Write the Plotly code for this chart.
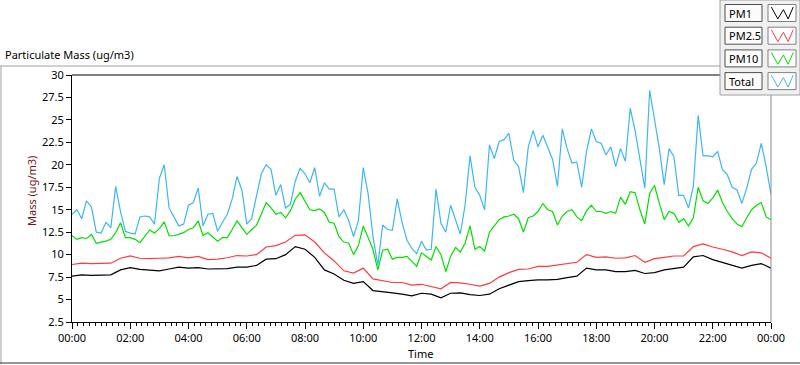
import pandas as pd
import plotly.graph_objects as go

# ---------------- data ----------------
minutes_10 = list(range(0, 1441, 10))
minutes_20 = list(range(0, 1441, 20))

pm1 = [7.6, 7.75, 7.7, 7.7, 7.75, 8.3, 8.55, 8.35, 8.3, 8.2,
       8.4, 8.6, 8.5, 8.55, 8.4, 8.4, 8.45, 8.6, 8.6, 8.8,
       9.5, 9.55, 10.0, 10.9, 10.6, 9.7, 8.3, 7.85, 7.15, 6.8,
       7.0, 6.0, 5.9, 5.75, 5.6, 5.4, 5.7, 5.6, 5.2, 5.7,
       5.75, 5.55, 5.45, 5.6, 6.2, 6.6, 7.0, 7.1, 7.2, 7.2,
       7.25, 7.45, 7.6, 8.5, 8.3, 8.3, 8.1, 8.1, 8.25, 7.9,
       8.0, 8.3, 8.45, 8.6, 9.75, 9.9, 9.45, 9.15, 8.85, 8.5,
       8.8, 9.0, 8.5]

pm25 = [8.9, 9.05, 9.0, 9.0, 9.05, 9.6, 9.85, 9.6, 9.55, 9.6,
        9.65, 9.8, 9.65, 9.8, 9.45, 9.5, 9.65, 9.9, 9.85, 10.0,
        10.85, 11.0, 11.4, 12.15, 12.2, 11.4, 10.2, 9.3, 8.2, 7.95,
        8.5, 7.3, 7.1, 6.9, 6.9, 6.6, 6.7, 6.45, 6.2, 6.9,
        6.85, 6.7, 6.5, 6.8, 7.5, 8.0, 8.35, 8.4, 8.7, 8.7,
        8.85, 9.0, 9.15, 10.0, 9.7, 9.75, 9.6, 9.65, 9.9, 9.15,
        9.55, 9.7, 9.85, 9.85, 10.9, 11.2, 10.85, 10.6, 10.3, 9.9,
        10.3, 10.2, 9.6]

pm10 = [12.1, 11.7, 11.9, 11.8, 12.25, 11.25,
        11.4, 11.5, 11.7, 12.45, 13.55, 11.9,
        11.9, 11.7, 11.33, 12.0, 12.75, 12.4,
        12.9, 13.65, 12.1, 12.1, 12.25, 12.45,
        12.8, 13.0, 13.75, 12.15, 12.44, 12.0,
        11.5, 11.9, 11.9, 12.8, 13.75, 13.0,
        12.26, 12.8, 13.26, 14.5, 15.8, 15.2,
        14.5, 14.7, 14.1, 14.9, 16.2, 16.9,
        15.9, 15.0, 14.9, 15.1, 14.7, 13.6,
        13.5, 12.0, 11.4, 11.3, 10.0, 11.0,
        13.2, 12.0, 10.6, 8.3, 10.5, 10.6,
        9.5, 9.7, 9.7, 9.8, 9.3, 8.7,
        10.2, 9.8, 9.4, 10.9, 10.0, 8.1,
        9.8, 10.8, 10.3, 11.3, 13.2, 10.6,
        10.9, 10.4, 12.5, 13.2, 13.9, 14.2,
        14.3, 14.5, 14.0, 12.5, 14.1, 14.3,
        14.8, 15.7, 15.0, 14.8, 13.3, 14.3,
        14.8, 15.0, 14.2, 13.8, 14.9, 15.5,
        14.8, 14.8, 14.6, 14.8, 14.6, 16.4,
        15.6, 17.0, 16.9, 15.0, 13.4, 16.8,
        17.7, 15.7, 13.9, 14.8, 14.6, 13.6,
        14.0, 13.2, 14.1, 17.5, 16.0, 15.7,
        16.3, 17.2, 15.8, 14.8, 14.0, 13.4,
        13.1, 14.1, 15.0, 15.5, 15.8, 14.2,
        13.9]

total = [14.5, 15.0, 14.0, 16.0, 15.3, 12.5,
         12.4, 13.6, 13.0, 17.6, 14.8, 12.6,
         12.4, 12.3, 14.2, 14.3, 14.2, 13.4,
         18.5, 20.0, 15.2, 14.2, 13.2, 13.4,
         15.5, 15.8, 17.4, 13.2, 14.5, 14.6,
         12.6, 13.6, 14.5, 16.2, 18.7, 17.2,
         13.4, 14.0, 16.4, 19.0, 20.0, 19.5,
         16.6, 17.8, 15.2, 15.6, 18.2, 19.6,
         19.0, 18.0, 19.7, 16.5, 18.0, 17.3,
         17.3, 14.2, 15.0, 13.8, 12.0, 13.8,
         19.7, 16.8, 12.0, 8.8, 13.3, 12.8,
         12.7, 16.2, 13.6, 11.6, 10.7, 10.1,
         11.5, 10.5, 10.6, 17.3, 13.5, 12.5,
         15.5, 13.8, 12.3, 15.6, 21.0, 17.5,
         16.6, 15.0, 22.2, 20.7, 22.6, 22.8,
         23.5, 20.5, 19.8, 16.9, 22.0, 23.8,
         22.0, 23.3, 22.0, 20.6, 17.6, 24.0,
         21.8, 20.2, 20.3, 17.5, 21.5, 24.0,
         22.6, 22.4, 21.1, 22.0, 19.8, 21.8,
         20.4, 26.3, 23.8, 20.4, 17.4, 28.3,
         25.0, 21.8, 17.8, 21.8, 20.9, 16.6,
         16.6, 15.2, 17.6, 25.5, 21.0, 21.0,
         20.9, 21.5, 19.45, 18.9, 17.5, 17.2,
         15.7, 17.4, 19.5, 20.2, 22.4, 19.8,
         16.7]

series_names = ["PM1", "PM2.5", "PM10", "Total"]
series_colors = ["#000000", "#ff3c3c", "#00e000", "#3db6f7"]
y_ticks = [2.5, 5, 7.5, 10, 12.5, 15, 17.5, 20, 22.5, 25, 27.5, 30]

assert len(pm1) == len(minutes_20) and len(pm25) == len(minutes_20)
assert len(pm10) == len(minutes_10) and len(total) == len(minutes_10)

base = pd.Timestamp("2024-01-01")
t10 = base + pd.to_timedelta(minutes_10, unit="m")
t20 = base + pd.to_timedelta(minutes_20, unit="m")

W, H = 800, 365
PL, PR, PT, PB = 72, 771, 75, 322


def fx(x):
    return (x - PL) / (PR - PL)


def fy(y):
    return (PB - y) / (PB - PT)


FONT = "Noto Sans"

fig = go.Figure()
for name, xs, ys, col in [("PM1", t20, pm1, series_colors[0]),
                          ("PM2.5", t20, pm25, series_colors[1]),
                          ("PM10", t10, pm10, series_colors[2]),
                          ("Total", t10, total, series_colors[3])]:
    fig.add_trace(go.Scatter(x=xs, y=ys, mode="lines", name=name,
                             line=dict(color=col, width=1.2)))

shapes = []
annotations = []

# outer frame
shapes.append(dict(type="line", xref="paper", yref="paper", x0=fx(0), x1=fx(722),
                   y0=fy(66), y1=fy(66), line=dict(color="#a0a0a0", width=1)))
shapes.append(dict(type="line", xref="paper", yref="paper", x0=fx(1), x1=fx(1),
                   y0=fy(66), y1=fy(364), line=dict(color="#a0a0a0", width=1)))
shapes.append(dict(type="line", xref="paper", yref="paper", x0=fx(0), x1=fx(800),
                   y0=fy(363), y1=fy(363), line=dict(color="#303030", width=1)))
# plot top border and right border
shapes.append(dict(type="line", xref="paper", yref="paper", x0=0, x1=fx(722),
                   y0=1, y1=1, line=dict(color="#000000", width=1)))
shapes.append(dict(type="line", xref="paper", yref="paper", x0=1, x1=1,
                   y0=0, y1=fy(95), line=dict(color="#8a8a8a", width=1)))

# legend panel
shapes.append(dict(type="rect", xref="paper", yref="paper", x0=fx(720), x1=fx(800),
                   y0=fy(0), y1=fy(95), fillcolor="#f0f0f0",
                   line=dict(color="#a0a0a0", width=1), layer="above"))
for i, (name, col) in enumerate(zip(series_names, series_colors)):
    yc = 13 + 22.7 * i
    shapes.append(dict(type="rect", xref="paper", yref="paper", x0=fx(725), x1=fx(762),
                       y0=fy(yc - 8.5), y1=fy(yc + 8.5), fillcolor="#fbfbfb",
                       line=dict(color="#505050", width=1), layer="above"))
    shapes.append(dict(type="rect", xref="paper", yref="paper", x0=fx(768), x1=fx(796),
                       y0=fy(yc - 8.5), y1=fy(yc + 8.5), fillcolor="#ffffff",
                       line=dict(color="#808080", width=1), layer="above"))
    pts = [(0.12, 0.15), (0.35, 0.85), (0.55, 0.3), (0.72, 0.85), (0.9, 0.15)]
    path = ""
    for j, (a, b) in enumerate(pts):
        px_ = fx(768 + a * 28)
        py_ = fy(yc - 8.5 + b * 17)
        path += ("M" if j == 0 else " L") + f"{px_:.5f},{py_:.5f}"
    shapes.append(dict(type="path", xref="paper", yref="paper", path=path,
                       line=dict(color=col, width=1), layer="above"))
    annotations.append(dict(text=name, xref="paper", yref="paper", x=fx(727), y=fy(yc),
                            xanchor="left", yanchor="middle", showarrow=False,
                            font=dict(family=FONT, size=11, color="#000000")))

# titles
annotations.append(dict(text="Particulate Mass (ug/m3)", xref="paper", yref="paper",
                        x=fx(3), y=fy(55), xanchor="left", yanchor="middle", showarrow=False,
                        font=dict(family=FONT, size=11, color="#000000")))
annotations.append(dict(text="Mass (ug/m3)", xref="paper", yref="paper",
                        x=fx(31), y=fy(191), xanchor="center", yanchor="middle",
                        textangle=-90, showarrow=False,
                        font=dict(family=FONT, size=11, color="#6e1414")))
annotations.append(dict(text="Time", xref="paper", yref="paper",
                        x=fx(420), y=fy(353), xanchor="center", yanchor="middle",
                        showarrow=False, font=dict(family=FONT, size=11, color="#000000")))

fig.update_layout(
    width=W, height=H,
    margin=dict(l=PL, r=W - PR, t=PT, b=H - PB, pad=0),
    paper_bgcolor="#ffffff", plot_bgcolor="#ffffff",
    showlegend=False,
    shapes=shapes, annotations=annotations,
    font=dict(family=FONT, size=11, color="#000000"),
)
fig.update_xaxes(
    type="date",
    range=[base, base + pd.Timedelta(days=1)],
    tickformat="%H:%M", dtick=2 * 3600 * 1000, tick0=base,
    ticks="outside", ticklen=6, tickcolor="#000000", tickwidth=1,
    minor=dict(dtick=12 * 60 * 1000, ticks="outside", ticklen=3, tickcolor="#000000", tickwidth=1),
    showline=True, linecolor="#000000", linewidth=1, mirror=False,
    showgrid=False, zeroline=False,
    tickfont=dict(family=FONT, size=11, color="#000000"),
)
fig.update_yaxes(
    range=[2.5, 30], tickvals=y_ticks, ticktext=[f"{v:g}" for v in y_ticks],
    ticks="outside", ticklen=5, tickcolor="#000000", tickwidth=1,
    showline=True, linecolor="#000000", linewidth=1, mirror=False,
    showgrid=False, zeroline=False,
    tickfont=dict(family=FONT, size=11, color="#000000"),
)

fig.write_html("out.html",
               config={"displayModeBar": False},
               post_script="document.body.style.margin='0px';document.body.style.overflow='hidden';")
